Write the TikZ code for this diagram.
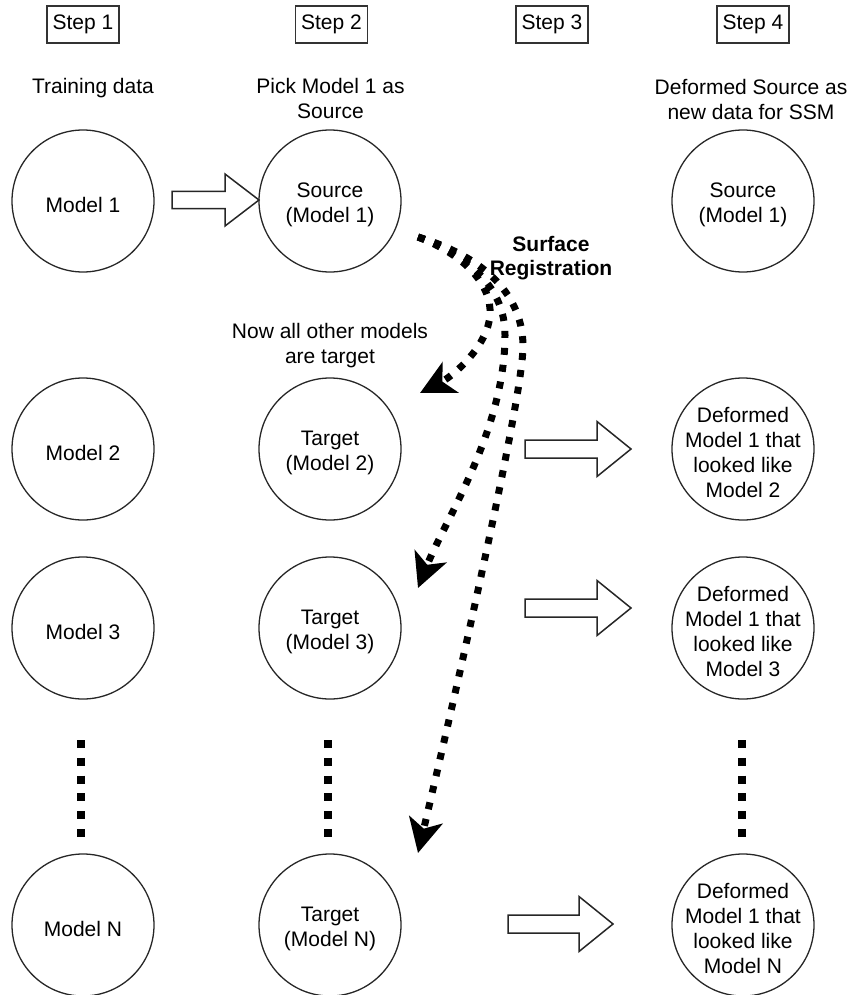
\documentclass[tikz,border=0pt]{standalone}
\usepackage{fontspec}
\setmainfont{Liberation Sans}
\usetikzlibrary{arrows.meta}
\begin{document}
\begin{tikzpicture}[x=1pt,y=-1pt,
  every node/.style={font=\fontsize{21}{25}\selectfont, align=center, inner sep=0pt},
  stepbox/.style={draw=black!80, line width=1.4pt, minimum width=72pt, minimum height=37pt},
  model/.style={draw=black!85, line width=1.3pt, circle, minimum size=142pt,
    label={[yshift=-3.5pt]center:{#1}}},
  blk/.style={draw=black!85, line width=1.5pt, fill=white, line join=miter},
  regpath/.style={line width=7pt, dash pattern=on 7pt off 10pt,
    -{Stealth[length=34pt,width=34pt,inset=9pt]}},
  vdots/.style={line width=8pt, dash pattern=on 8pt off 9.8pt},
  pics/blockarrow/.style args={#1/#2/#3/#4}{code={
    \draw[blk] (0,-#3) -- (#1,-#3) -- (#1,-#4) -- (#1+#2,0) -- (#1,#4) -- (#1,#3) -- (0,#3) -- cycle;}}
]
\useasboundingbox (0,0) rectangle (851,995);

% step headers
\node[stepbox] (s1) at (83,24.5) {Step 1};
\node[stepbox] (s2) at (331.5,24.5) {Step 2};
\node[stepbox] (s3) at (552,24.5) {Step 3};
\node[stepbox] (s4) at (753,24.5) {Step 4};

% column captions
\node (l1) at (93,88) {Training data};
\node (l2) at (330.5,98.5) {Pick Model 1 as\\Source};
\node (l4) at (751,99) {Deformed Source as\\new data for SSM};
\node (lt) at (330,346) {Now all other models\\are target};
\node[font=\fontsize{21}{24}\selectfont\bfseries] (reg) at (551,258) {Surface\\Registration};

% models
\node[model={Model 1}] (m1) at (83,201) {};
\node[model={Source\\(Model 1)}] (src) at (330,201) {};
\node[model={Source\\(Model 1)}] (out1) at (743,201) {};

\node[model={Model 2}] (m2) at (83,449) {};
\node[model={Target\\(Model 2)}] (t2) at (330,449) {};
\node[model={Deformed\\Model 1 that\\looked like\\Model 2}] (d2) at (743,449) {};

\node[model={Model 3}] (m3) at (83,628) {};
\node[model={Target\\(Model 3)}] (t3) at (330,628) {};
\node[model={Deformed\\Model 1 that\\looked like\\Model 3}] (d3) at (743,628) {};

\node[model={Model N}] (mN) at (83,925) {};
\node[model={Target\\(Model N)}] (tN) at (330,925) {};
\node[model={Deformed\\Model 1 that\\looked like\\Model N}] (dN) at (743,925) {};

% block arrows
\pic at (172,200) {blockarrow=53/34/8.5/26};
\pic at (525,449) {blockarrow=72/34/9/27.5};
\pic at (525,608) {blockarrow=72/34/9/27.5};
\pic at (508,924) {blockarrow=71/34/9/27.5};

% ellipsis dots
\draw[vdots] (81,740) -- (81,838);
\draw[vdots] (328,740) -- (328,838);
\draw[vdots] (742,740) -- (742,838);

% surface registration paths
\coordinate (regstart) at (418,237);
\coordinate (e2) at (420,393);
\coordinate (e3) at (418,588);
\coordinate (eN) at (418,853);
\draw[regpath] (regstart) .. controls (465,255) and (492,285) .. (490,315)
  .. controls (488,345) and (455,375) .. (e2);
\draw[regpath] (regstart) .. controls (472,257) and (505,290) .. (505,335)
  .. controls (505,430) and (445,520) .. (e3);
\draw[regpath] (regstart) .. controls (478,255) and (522,290) .. (523,345)
  .. controls (524,400) and (440,760) .. (eN);
\end{tikzpicture}
\end{document}
